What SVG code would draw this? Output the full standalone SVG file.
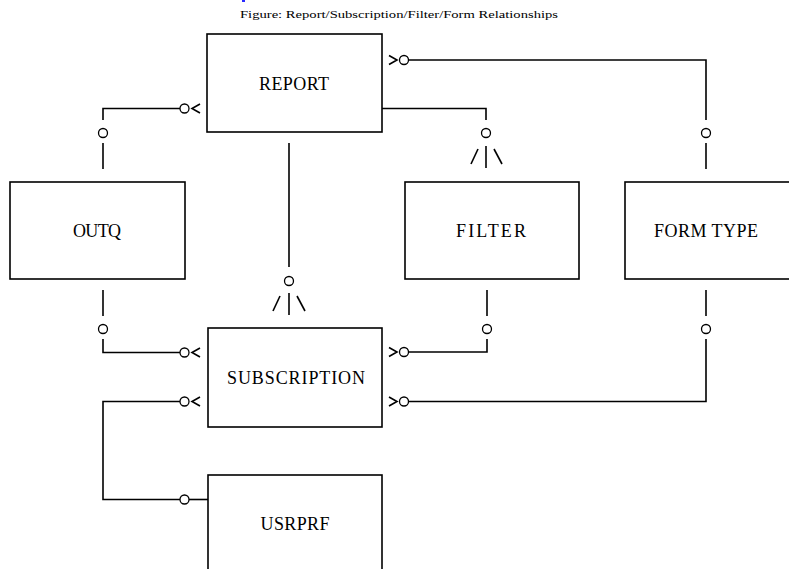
<svg xmlns="http://www.w3.org/2000/svg" width="789" height="569" viewBox="0 0 789 569">
<style>
.box{fill:#fff;stroke:#000;stroke-width:1.6}
.lbl{font-family:"Liberation Serif","DejaVu Serif",serif;font-size:18px;fill:#000;text-anchor:middle}
.cap{font-family:"Liberation Serif","DejaVu Serif",serif;font-size:10px;fill:#000}
.ln{fill:none;stroke:#000;stroke-width:1.6}
.o{fill:#fff;stroke:#000;stroke-width:1.3}
</style>
<rect width="789" height="569" fill="#fff"/>
<rect x="242" y="0" width="3" height="2" fill="#2a2aff"/>
<text class="cap" x="240" y="18" textLength="318" lengthAdjust="spacingAndGlyphs">Figure: Report/Subscription/Filter/Form Relationships</text>
<g id="connectors">
  <!-- REPORT - OUTQ -->
  <polyline class="ln" points="180,108.5 103,108.5 103,120"/>
  <circle class="o" cx="184.5" cy="108.5" r="4.5"/>
  <polyline class="ln" points="200,104 192,108.5 200,113"/>
  <circle class="o" cx="103" cy="133" r="4.5"/>
  <line class="ln" x1="103" y1="143" x2="103" y2="169"/>
  <!-- REPORT - FILTER -->
  <polyline class="ln" points="382,108.5 486,108.5 486,120"/>
  <circle class="o" cx="486" cy="133" r="4.5"/>
  <line class="ln" x1="486" y1="146" x2="486" y2="168"/>
  <line class="ln" x1="471" y1="164" x2="478" y2="149"/>
  <line class="ln" x1="494" y1="149" x2="502" y2="164"/>
  <!-- REPORT - FORM TYPE -->
  <polyline class="ln" points="389,55.5 397,60 389,64.5"/>
  <circle class="o" cx="404" cy="60" r="4.5"/>
  <polyline class="ln" points="408.5,60 706,60 706,120"/>
  <circle class="o" cx="706" cy="133" r="4.5"/>
  <line class="ln" x1="706" y1="143" x2="706" y2="169"/>
  <!-- REPORT - SUBSCRIPTION -->
  <line class="ln" x1="289" y1="143" x2="289" y2="267"/>
  <circle class="o" cx="289" cy="281" r="4.5"/>
  <line class="ln" x1="289" y1="293" x2="289" y2="315"/>
  <line class="ln" x1="273" y1="311" x2="280" y2="296"/>
  <line class="ln" x1="297" y1="296" x2="305" y2="311"/>
  <!-- OUTQ - SUBSCRIPTION -->
  <line class="ln" x1="103" y1="290" x2="103" y2="316"/>
  <circle class="o" cx="103" cy="329" r="4.5"/>
  <polyline class="ln" points="103,339 103,352.5 180,352.5"/>
  <circle class="o" cx="184.5" cy="352.5" r="4.5"/>
  <polyline class="ln" points="200,348 192,352.5 200,357"/>
  <!-- FILTER - SUBSCRIPTION -->
  <line class="ln" x1="487" y1="290" x2="487" y2="316"/>
  <circle class="o" cx="487" cy="329" r="4.5"/>
  <polyline class="ln" points="487,339 487,352 408.5,352"/>
  <circle class="o" cx="404" cy="352" r="4.5"/>
  <polyline class="ln" points="389,347.5 397,352 389,356.5"/>
  <!-- FORM TYPE - SUBSCRIPTION -->
  <line class="ln" x1="706" y1="290" x2="706" y2="316"/>
  <circle class="o" cx="706" cy="329" r="4.5"/>
  <polyline class="ln" points="706,339 706,401.5 408.5,401.5"/>
  <circle class="o" cx="404" cy="401.5" r="4.5"/>
  <polyline class="ln" points="389,397 397,401.5 389,406"/>
  <!-- SUBSCRIPTION - USRPRF -->
  <polyline class="ln" points="180,401.5 103,401.5 103,499.5 180,499.5"/>
  <circle class="o" cx="184.5" cy="401.5" r="4.5"/>
  <polyline class="ln" points="200,397 192,401.5 200,406"/>
  <circle class="o" cx="184.5" cy="499.5" r="4.5"/>
  <line class="ln" x1="189" y1="499.5" x2="208" y2="499.5"/>
</g>
<g id="report">
  <rect class="box" x="207" y="34" width="175" height="98"/>
  <text class="lbl" x="294" y="90" textLength="70" lengthAdjust="spacing">REPORT</text>
</g>
<g id="outq">
  <rect class="box" x="10" y="182" width="175" height="97"/>
  <text class="lbl" x="97" y="237" textLength="48" lengthAdjust="spacing">OUTQ</text>
</g>
<g id="filter">
  <rect class="box" x="405" y="182" width="174" height="97"/>
  <text class="lbl" x="491" y="237" textLength="70" lengthAdjust="spacing">FILTER</text>
</g>
<g id="formtype">
  <rect class="box" x="625" y="182" width="175" height="97"/>
  <text class="lbl" x="706" y="237" textLength="104" lengthAdjust="spacing">FORM TYPE</text>
</g>
<g id="subscription">
  <rect class="box" x="208" y="328" width="174" height="99"/>
  <text class="lbl" x="296" y="384" textLength="138" lengthAdjust="spacing">SUBSCRIPTION</text>
</g>
<g id="usrprf">
  <rect class="box" x="208" y="475" width="174" height="110"/>
  <text class="lbl" x="295" y="530" textLength="69" lengthAdjust="spacing">USRPRF</text>
</g>
</svg>
